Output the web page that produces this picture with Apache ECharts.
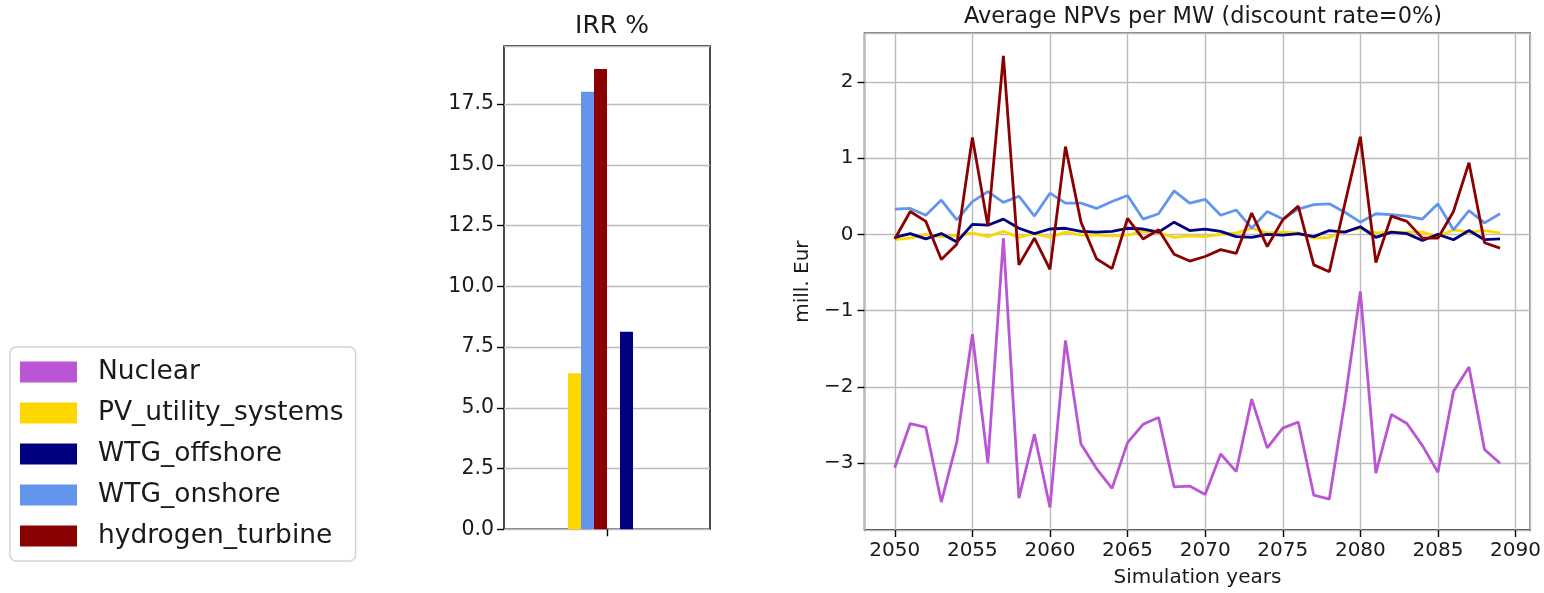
<!DOCTYPE html>
<html>
<head>
<meta charset="utf-8">
<title>IRR and average NPVs per MW</title>
<script src="https://cdn.jsdelivr.net/npm/echarts@6/dist/echarts.min.js"></script>
<style>
  html, body { margin: 0; padding: 0; background: #ffffff; }
  #wrap { position: relative; width: 1544px; height: 593px; }
  #irr { position: absolute; left: 0; top: 0; width: 760px; height: 593px; }
  #npv { position: absolute; left: 760px; top: 0; width: 784px; height: 593px; }
</style>
</head>
<body>
<div id="wrap"><div id="irr"></div><div id="npv"></div></div>
<script>
// Simulation years on the NPV panel
const years = [2050, 2051, 2052, 2053, 2054, 2055, 2056, 2057, 2058, 2059,
               2060, 2061, 2062, 2063, 2064, 2065, 2066, 2067, 2068, 2069,
               2070, 2071, 2072, 2073, 2074, 2075, 2076, 2077, 2078, 2079,
               2080, 2081, 2082, 2083, 2084, 2085, 2086, 2087, 2088, 2089];

// Average NPV per MW, mill. Eur
const nuclear = [-3.06, -2.48, -2.53, -3.51, -2.72, -1.31, -3.00, -0.05, -3.46, -2.62,
                 -3.58, -1.39, -2.75, -3.07, -3.33, -2.73, -2.49, -2.40, -3.31, -3.30,
                 -3.41, -2.88, -3.11, -2.16, -2.80, -2.54, -2.46, -3.42, -3.47, -2.19,
                 -0.75, -3.13, -2.36, -2.48, -2.77, -3.12, -2.06, -1.74, -2.82, -3.00];
const pvUtility = [-0.07, -0.05, 0.00, -0.03, -0.02, 0.02, -0.03, 0.04, -0.04, 0.01,
                   -0.04, 0.03, -0.01, -0.01, -0.02, -0.01, 0.04, 0.02, -0.04, -0.02,
                   -0.03, 0.00, 0.02, 0.08, 0.02, 0.03, 0.02, -0.05, -0.04, 0.04,
                   0.08, 0.02, 0.03, 0.03, 0.03, -0.03, 0.06, 0.03, 0.05, 0.02];
const wtgOffshore = [-0.04, 0.01, -0.06, 0.01, -0.10, 0.13, 0.12, 0.20, 0.08, 0.01,
                     0.07, 0.08, 0.04, 0.03, 0.04, 0.08, 0.07, 0.03, 0.16, 0.05,
                     0.07, 0.04, -0.03, -0.04, 0.00, -0.01, 0.01, -0.03, 0.05, 0.03,
                     0.10, -0.04, 0.03, 0.01, -0.08, 0.00, -0.07, 0.05, -0.07, -0.06];
const wtgOnshore = [0.33, 0.34, 0.25, 0.45, 0.19, 0.43, 0.56, 0.42, 0.50, 0.24,
                    0.54, 0.41, 0.41, 0.34, 0.43, 0.51, 0.20, 0.27, 0.57, 0.41,
                    0.46, 0.25, 0.32, 0.08, 0.30, 0.20, 0.33, 0.39, 0.40, 0.29,
                    0.16, 0.27, 0.26, 0.24, 0.20, 0.40, 0.06, 0.31, 0.15, 0.27];
const hydrogenTurbine = [-0.06, 0.30, 0.17, -0.33, -0.13, 1.27, 0.11, 2.34, -0.40, -0.05,
                         -0.46, 1.15, 0.16, -0.32, -0.45, 0.21, -0.06, 0.06, -0.26, -0.35,
                         -0.29, -0.20, -0.25, 0.28, -0.16, 0.19, 0.37, -0.40, -0.49, 0.40,
                         1.28, -0.37, 0.24, 0.17, -0.05, -0.05, 0.30, 0.94, -0.11, -0.18];

// IRR %, one bar per technology (Nuclear has no IRR)
const irrTechs = ['PV_utility_systems', 'WTG_onshore', 'hydrogen_turbine', 'Nuclear', 'WTG_offshore'];
const irrValues = [6.42, 18.01, 18.94, null, 8.13];

const legendNames = ['Nuclear', 'PV_utility_systems', 'WTG_offshore', 'WTG_onshore', 'hydrogen_turbine'];
const techColors = {
  'Nuclear': '#BA55D3',
  'PV_utility_systems': '#FFD700',
  'WTG_offshore': '#000080',
  'WTG_onshore': '#6495ED',
  'hydrogen_turbine': '#8B0000'
};
const npvSeries = [
  ['Nuclear', nuclear],
  ['PV_utility_systems', pvUtility],
  ['WTG_offshore', wtgOffshore],
  ['WTG_onshore', wtgOnshore],
  ['hydrogen_turbine', hydrogenTurbine]
];

const FONT = 'DejaVu Sans';
const TXT = '#1a1a1a';
const GRID_COLOR = '#bcbcbc';
const GRIDLINE = { show: true, lineStyle: { color: GRID_COLOR, width: 1.4 } };
const TICK = { show: true, inside: false, length: 7, lineStyle: { color: '#000', width: 1.4 } };
const minus = v => (v < 0 ? '\u2212' : '') + Math.abs(v);

// ---- left panel: legend and IRR bars ----
const irrChart = echarts.init(document.getElementById('irr'), null, { renderer: 'canvas' });

const barSeries = irrTechs.map((name, i) => ({
  type: 'bar',
  name: name,
  color: techColors[name],
  barWidth: 13,
  barGap: '0%',
  data: [irrValues[i]]
}));
// empty trailing slot of the bar group
barSeries.push({ type: 'bar', barWidth: 13, barGap: '0%', data: [null] });

irrChart.setOption({
  animation: false,
  backgroundColor: '#ffffff',
  textStyle: { fontFamily: FONT, color: TXT },
  title: {
    text: 'IRR %', left: 607, top: 9, textAlign: 'center',
    textStyle: { fontFamily: FONT, fontSize: 25, fontWeight: 'normal', color: TXT }
  },
  legend: {
    data: legendNames,
    orient: 'vertical',
    left: 10,
    top: 347,
    icon: 'rect',
    itemWidth: 57,
    itemHeight: 21,
    itemGap: 14,
    padding: [11.5, 12, 11.5, 10],
    backgroundColor: 'rgba(255,255,255,0.9)',
    borderColor: '#d3d3d3',
    borderWidth: 1.5,
    borderRadius: 6,
    selectedMode: false,
    textStyle: { fontFamily: FONT, fontSize: 26.5, color: TXT, padding: [0, 0, 0, 16] }
  },
  grid: { left: 504, top: 46, width: 206, height: 483.3, show: true,
          borderColor: '#000', borderWidth: 1.4, backgroundColor: 'transparent' },
  xAxis: {
    type: 'category', data: [''],
    axisLine: { show: false, onZero: false },
    axisTick: Object.assign({ alignWithLabel: true }, TICK),
    axisLabel: { show: false },
    splitLine: { show: false }
  },
  yAxis: {
    type: 'value', min: 0, max: 19.89, interval: 2.5,
    axisLine: { show: false, onZero: false },
    axisTick: TICK,
    axisLabel: { fontFamily: FONT, fontSize: 20.5, color: TXT, margin: 10,
                 showMaxLabel: false, formatter: v => v.toFixed(1) },
    splitLine: GRIDLINE
  },
  series: barSeries
});

// ---- right panel: average NPVs per MW ----
const npvChart = echarts.init(document.getElementById('npv'), null, { renderer: 'canvas' });

const lineSeries = npvSeries.map(([name, vals]) => ({
  type: 'line',
  name: name,
  color: techColors[name],
  showSymbol: false,
  symbol: 'none',
  lineStyle: { width: 2.8 },
  data: years.map((y, i) => [y, vals[i]])
}));

npvChart.setOption({
  animation: false,
  backgroundColor: '#ffffff',
  textStyle: { fontFamily: FONT, color: TXT },
  title: {
    text: 'Average NPVs per MW (discount rate=0%)', left: 438, top: 1, textAlign: 'center',
    textStyle: { fontFamily: FONT, fontSize: 22.5, fontWeight: 'normal', color: TXT }
  },
  grid: { left: 104.5, top: 33.3, width: 667, height: 498.7, show: true,
          borderColor: '#000', borderWidth: 1.4, backgroundColor: 'transparent' },
  xAxis: {
    type: 'value', min: 2048.05, max: 2090.95,
    splitNumber: 8, minInterval: 5, maxInterval: 5,
    name: 'Simulation years', nameLocation: 'middle', nameGap: 38,
    nameTextStyle: { fontFamily: FONT, fontSize: 20, color: TXT },
    axisLine: { show: false, onZero: false },
    axisTick: TICK,
    axisLabel: { fontFamily: FONT, fontSize: 20, color: TXT, margin: 11,
                 showMinLabel: false, showMaxLabel: false, formatter: v => String(v) },
    splitLine: GRIDLINE
  },
  yAxis: {
    type: 'value', min: -3.876, max: 2.636,
    splitNumber: 6, minInterval: 1, maxInterval: 1,
    name: 'mill. Eur', nameLocation: 'middle', nameGap: 43,
    nameTextStyle: { fontFamily: FONT, fontSize: 20, color: TXT },
    axisLine: { show: false, onZero: false },
    axisTick: TICK,
    axisLabel: { fontFamily: FONT, fontSize: 20, color: TXT, margin: 11,
                 showMinLabel: false, showMaxLabel: false, formatter: minus },
    splitLine: GRIDLINE
  },
  series: lineSeries
});
</script>
</body>
</html>
